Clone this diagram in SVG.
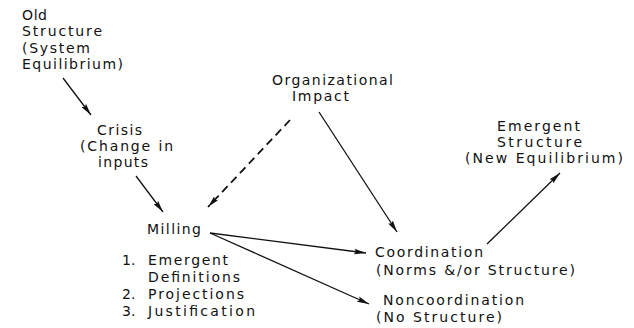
<svg xmlns="http://www.w3.org/2000/svg" width="634" height="328" viewBox="0 0 634 328">
<defs>
<style>
text{font-family:"DejaVu Sans","Liberation Sans",sans-serif;font-size:14px;fill:#111;}
.c{stroke:#111;stroke-width:1.3;fill:none;}
.d{stroke:#111;stroke-width:1.8;fill:none;stroke-dasharray:8 5;}
</style>
<marker id="ah" viewBox="0 0 12 6" refX="12" refY="3" markerWidth="12" markerHeight="6" markerUnits="userSpaceOnUse" orient="auto">
<path d="M0,0.2 L12,3 L0,5.8 L2,3 Z" fill="#111"/>
</marker>
</defs>
<rect width="634" height="328" fill="#fff"/>
<g id="connectors">
<line class="c" x1="63" y1="78" x2="91" y2="115" marker-end="url(#ah)"/>
<line class="c" x1="136" y1="176" x2="163" y2="212" marker-end="url(#ah)"/>
<line class="d" x1="290" y1="120" x2="208" y2="207" marker-end="url(#ah)"/>
<line class="c" x1="319" y1="112" x2="397" y2="232" marker-end="url(#ah)"/>
<line class="c" x1="210" y1="233" x2="366" y2="253" marker-end="url(#ah)"/>
<line class="c" x1="210" y1="233" x2="369" y2="304" marker-end="url(#ah)"/>
<line class="c" x1="487" y1="244" x2="560" y2="173" marker-end="url(#ah)"/>
</g>
<g id="old-structure">
<text x="22" y="19.5" textLength="25" lengthAdjust="spacing">Old</text>
<text x="22" y="36" textLength="80" lengthAdjust="spacing">Structure</text>
<text x="22" y="52.5" textLength="68" lengthAdjust="spacing">(System</text>
<text x="22" y="69" textLength="101" lengthAdjust="spacing">Equilibrium)</text>
</g>
<g id="crisis">
<text x="97" y="134.5" textLength="45" lengthAdjust="spacing">Crisis</text>
<text x="80" y="151" textLength="93" lengthAdjust="spacing">(Change in</text>
<text x="98" y="167" textLength="50" lengthAdjust="spacing">inputs</text>
</g>
<g id="organizational-impact">
<text x="272" y="84.5" textLength="121" lengthAdjust="spacing">Organizational</text>
<text x="292" y="101" textLength="57" lengthAdjust="spacing">Impact</text>
</g>
<g id="emergent-structure">
<text x="497" y="131" textLength="83" lengthAdjust="spacing">Emergent</text>
<text x="497" y="147" textLength="85" lengthAdjust="spacing">Structure</text>
<text x="465" y="163" textLength="158" lengthAdjust="spacing">(New Equilibrium)</text>
</g>
<g id="milling">
<text x="147" y="234" textLength="54" lengthAdjust="spacing">Milling</text>
<text x="122" y="265">1.</text>
<text x="148" y="265" textLength="80" lengthAdjust="spacing">Emergent</text>
<text x="148" y="282" textLength="92" lengthAdjust="spacing">Definitions</text>
<text x="122" y="299">2.</text>
<text x="148" y="299" textLength="96" lengthAdjust="spacing">Projections</text>
<text x="122" y="316">3.</text>
<text x="148" y="316" textLength="107" lengthAdjust="spacing">Justification</text>
</g>
<g id="coordination">
<text x="375" y="257" textLength="108" lengthAdjust="spacing">Coordination</text>
<text x="376" y="274.5" textLength="199" lengthAdjust="spacing">(Norms &amp;/or Structure)</text>
</g>
<g id="noncoordination">
<text x="383" y="305" textLength="141" lengthAdjust="spacing">Noncoordination</text>
<text x="376" y="322" textLength="126" lengthAdjust="spacing">(No Structure)</text>
</g>
</svg>
